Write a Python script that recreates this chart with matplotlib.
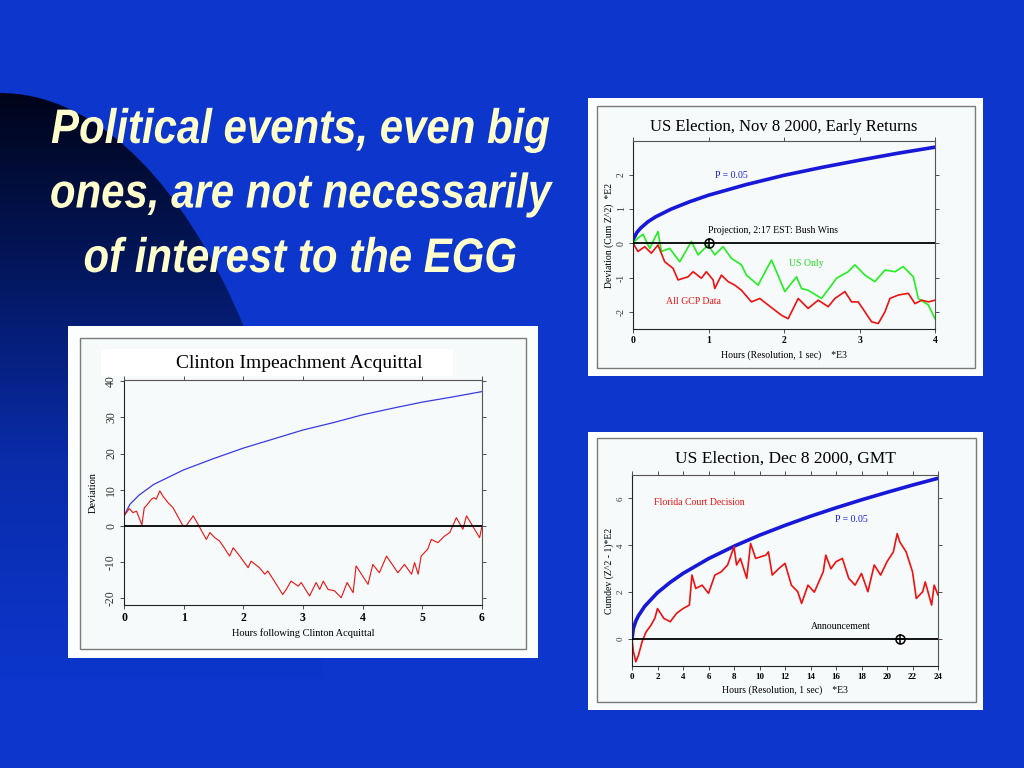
import numpy as np
import matplotlib
matplotlib.use('Agg')
import matplotlib.pyplot as plt
from matplotlib.patches import Rectangle, Ellipse
from matplotlib.patheffects import AbstractPathEffect
from matplotlib.transforms import Affine2D

plt.rcParams['axes.unicode_minus'] = False

W, H = 1024, 768

# ---- data ----
# Nov 8 2000, early returns (x in *E3 hours, y in *E2)
nov_t_blue = [0, 0.01, 0.05, 0.1, 0.2, 0.3, 0.5, 0.75, 1.0, 1.5, 2.0, 2.5, 3.0, 3.5, 4.0]
nov_blue = [0, 0.14, 0.31, 0.44, 0.63, 0.77, 0.99, 1.21, 1.40, 1.71, 1.98, 2.21, 2.42, 2.62, 2.80]
nov_t_green = [0, 0.066, 0.133, 0.221, 0.331, 0.376, 0.486, 0.619, 0.773, 0.862, 0.994, 1.083,
               1.193, 1.304, 1.436, 1.503, 1.657, 1.834, 1.901, 2.011, 2.166, 2.232, 2.320, 2.497,
               2.630, 2.696, 2.851, 2.939, 3.072, 3.204, 3.337, 3.470, 3.580, 3.713, 3.779, 3.912, 4.0]
nov_green = [0, 0.15, 0.26, -0.15, 0.34, -0.24, -0.15, -0.54, 0.05, -0.34, -0.05, -0.34,
             -0.10, -0.44, -0.63, -0.93, -1.22, -0.49, -0.83, -1.41, -0.98, -1.32, -1.37, -1.61,
             -1.22, -1.02, -0.83, -0.63, -0.93, -1.12, -0.78, -0.83, -0.68, -0.98, -1.61, -1.80, -2.20]
nov_t_red = [0, 0.066, 0.155, 0.243, 0.331, 0.420, 0.530, 0.597, 0.729, 0.796, 0.906, 0.972,
             1.061, 1.083, 1.171, 1.260, 1.348, 1.436, 1.569, 1.680, 1.790, 1.967, 2.055, 2.188,
             2.320, 2.453, 2.586, 2.674, 2.807, 2.895, 2.983, 3.072, 3.160, 3.249, 3.337, 3.403,
             3.514, 3.646, 3.735, 3.823, 3.912, 4.0]
nov_red = [0, -0.24, -0.10, -0.29, -0.05, -0.54, -0.73, -1.07, -0.98, -0.83, -1.02, -0.83,
           -1.07, -1.32, -0.93, -1.12, -1.22, -1.37, -1.71, -1.61, -1.80, -2.10, -2.20, -1.61,
           -1.90, -1.66, -1.85, -1.61, -1.41, -1.71, -1.71, -2.00, -2.29, -2.34, -2.00, -1.61,
           -1.51, -1.46, -1.76, -1.66, -1.71, -1.66]
nov_event = (1.0, 0.0)

# Dec 8 2000, GMT
dec_t_blue = [0, 0.1, 0.3, 0.5, 1, 2, 3, 4, 6, 8, 10, 12, 14, 16, 18, 20, 22, 24]
dec_blue = [0, 0.44, 0.77, 0.99, 1.40, 1.98, 2.42, 2.80, 3.43, 3.96, 4.43, 4.85, 5.24, 5.60,
            5.94, 6.26, 6.57, 6.86]
dec_t_red = [0, 0.1, 0.3, 0.5, 0.8, 1.1, 1.5, 1.8, 2.0, 2.5, 3.0, 3.5, 4.0, 4.5, 4.7, 5.0, 5.5,
             6.0, 6.5, 7.0, 7.5, 8.0, 8.2, 8.5, 9.0, 9.3, 9.7, 10.5, 10.7, 11.0, 11.5, 12.0, 12.5,
             13.0, 13.3, 13.8, 14.3, 15.0, 15.2, 15.6, 16.0, 16.5, 17.0, 17.5, 18.0, 18.5, 19.0,
             19.5, 20.0, 20.5, 20.8, 21.0, 21.5, 22.0, 22.3, 22.8, 23.0, 23.5, 23.7, 24.0]
dec_red = [0, -0.5, -0.97, -0.7, -0.1, 0.3, 0.6, 0.9, 1.3, 0.88, 0.74, 1.1, 1.3, 1.45, 2.73,
           2.16, 2.3, 1.95, 2.73, 2.87, 3.16, 3.94, 3.16, 3.44, 2.59, 4.08, 3.44, 3.58, 3.72, 2.73,
           3.0, 3.23, 2.3, 2.02, 1.52, 2.3, 2.0, 2.87, 3.58, 3.0, 3.3, 3.44, 2.59, 2.3, 2.8, 2.02,
           3.16, 2.73, 3.3, 3.72, 4.5, 4.15, 3.72, 2.87, 1.73, 2.02, 2.44, 1.45, 2.3, 1.88]
dec_event = (21.0, 0.0)

# Clinton impeachment acquittal (hours)
cl_t_blue = [0, 0.1, 0.25, 0.5, 0.75, 1, 1.5, 2, 2.5, 3, 3.5, 4, 4.5, 5, 5.5, 6]
cl_blue = [2.8, 6, 8.5, 11.5, 13.5, 15.5, 18.6, 21.5, 24, 26.5, 28.5, 30.7, 32.5, 34.2, 35.6, 37.1]
cl_t_red = [0, 0.09, 0.15, 0.21, 0.30, 0.34, 0.37, 0.46, 0.50, 0.54, 0.60, 0.65, 0.74, 0.82,
            0.99, 1.04, 1.16, 1.24, 1.38, 1.44, 1.52, 1.60, 1.68, 1.77, 1.83, 1.94, 2.08, 2.13,
            2.27, 2.36, 2.41, 2.50, 2.66, 2.72, 2.80, 2.92, 2.97, 3.11, 3.22, 3.28, 3.34, 3.42,
            3.53, 3.64, 3.74, 3.84, 3.89, 3.98, 4.09, 4.17, 4.28, 4.40, 4.59, 4.70, 4.82, 4.87,
            4.93, 4.98, 5.09, 5.15, 5.26, 5.37, 5.46, 5.57, 5.68, 5.74, 5.96, 6.0]
cl_red = [2.8, 4.8, 3.7, 4.1, 0.3, 5.1, 5.5, 7.4, 7.8, 7.4, 9.7, 8.3, 6.4, 5.1,
          0, 0, 2.8, 0.5, -3.7, -1.8, -3.2, -4.1, -6.0, -8.3, -6.0, -8.3, -11.5, -9.7,
          -11.5, -13.3, -12.4, -14.7, -18.9, -17.5, -15.2, -16.6, -15.6, -19.3, -15.6, -17.5, -15.2, -17.5,
          -17.9, -19.8, -15.6, -18.4, -11.0, -13.3, -16.1, -10.6, -12.9, -8.3, -12.9, -10.6, -13.3, -10.1,
          -13.3, -8.3, -6.4, -3.7, -4.6, -2.8, -1.8, 2.3, -0.9, 2.8, -3.2, 0]

SLIDE_BLUE = '#0c36cc'
TITLE_YELLOW = '#ffffcc'
SERIF = ['Liberation Serif', 'DejaVu Serif']


class Stretch(AbstractPathEffect):
    """scale the glyphs vertically around a baseline (display pixels)"""

    def __init__(self, sy, cy):
        super().__init__()
        self.sy = sy
        self.cy = cy

    def draw_path(self, renderer, gc, tpath, affine, rgbFace=None):
        t = affine + Affine2D().translate(0, -self.cy).scale(1, self.sy).translate(0, self.cy)
        renderer.draw_path(gc, tpath, t, rgbFace)


def box(x0, y0, x1, y1):
    """pixel box (top-left origin) -> figure rect"""
    return [x0 / W, 1 - y1 / H, (x1 - x0) / W, (y1 - y0) / H]


fig = plt.figure(figsize=(W / 100, H / 100), dpi=100, facecolor=SLIDE_BLUE)

# background layer: dark shaded ellipse in the upper left
bg = fig.add_axes([0, 0, 1, 1], zorder=0)
bg.set_xlim(0, W)
bg.set_ylim(H, 0)
bg.axis('off')
rows = np.arange(H)
stops_y = [90, 300, 460, 680]
stops_c = np.array([[0, 4, 24], [4, 26, 106], [10, 44, 170], [12, 54, 204]]) / 255.0
grad = np.stack([np.interp(rows, stops_y, stops_c[:, k]) for k in range(3)], axis=1)
img = np.repeat(grad[:, None, :], 2, axis=1)
im = bg.imshow(img, extent=(0, W, H, 0), aspect='auto', interpolation='nearest')
ell = Ellipse((0, 793), 654, 1400, transform=bg.transData, facecolor='none', edgecolor='none')
bg.add_patch(ell)
im.set_clip_path(ell)

# slide title (narrow bold italic look: small font stretched upward)
title_lines = ['Political events, even big', 'ones, are not necessarily', 'of interest to the EGG']
title_base = [143, 207.5, 272]
for line, yb in zip(title_lines, title_base):
    fig.text(300 / W, 1 - yb / H, line, ha='center', va='baseline',
             fontsize=30.2, fontweight='bold', fontstyle='italic', color=TITLE_YELLOW,
             family=['Liberation Sans', 'DejaVu Sans'],
             path_effects=[Stretch(1.157, H - yb)])


def panel(outer, inner):
    x0, y0, x1, y1 = outer
    fig.patches.append(Rectangle((x0 / W, 1 - y1 / H), (x1 - x0) / W, (y1 - y0) / H,
                                 transform=fig.transFigure, facecolor='#fcfefe',
                                 edgecolor='none', zorder=1))
    x0, y0, x1, y1 = inner
    fig.patches.append(Rectangle((x0 / W, 1 - y1 / H), (x1 - x0) / W, (y1 - y0) / H,
                                 transform=fig.transFigure, facecolor='#f6fafa',
                                 edgecolor='#7a7a7a', lw=1.0, zorder=1))


def style_axes(ax, xt, yt, fs=7):
    ax.set_facecolor('#f6fafa')
    for s in ax.spines.values():
        s.set_color('#555555')
        s.set_linewidth(0.8)
    ax.spines['left'].set_color('#222222')
    ax.spines['bottom'].set_color('#222222')
    ax.set_xticks(xt)
    ax.set_yticks(yt)
    ax.tick_params(axis='both', direction='out', length=3, width=0.6, colors='#333333',
                   top=True, right=True, labelsize=fs, pad=2)
    ax.tick_params(axis='x', which='both', labelcolor='black')
    for lab in ax.get_xticklabels():
        lab.set_family(SERIF)
        lab.set_fontweight('bold')
    for lab in ax.get_yticklabels():
        lab.set_family(SERIF)
        lab.set_rotation(90)
        lab.set_va('center')


def event_marker(ax, pt):
    ax.plot([pt[0]], [pt[1]], marker='o', ms=6.5, mfc='none', mec='black', mew=1.1, zorder=6)
    ax.plot([pt[0]], [pt[1]], marker='+', ms=6.5, color='black', mew=1.1, zorder=6)


# ---- panel 1: Nov 8 2000 ----
panel((588, 98, 983, 376), (597, 106, 975, 368))
ax1 = fig.add_axes(box(633, 141, 935, 329), zorder=5)
ax1.plot(nov_t_blue, nov_blue, color='#1818d8', lw=2.6, solid_capstyle='round')
ax1.plot(nov_t_green, nov_green, color='#22ee22', lw=1.2)
ax1.plot(nov_t_red, nov_red, color='#ee1111', lw=1.2)
ax1.axhline(0, color='black', lw=1.3, zorder=3)
event_marker(ax1, nov_event)
ax1.set_xlim(0, 4)
ax1.set_ylim(-2.5, 2.98)
style_axes(ax1, [0, 1, 2, 3, 4], [-2, -1, 0, 1, 2])
ax1.text(1.08, 1.98, 'P = 0.05', color='#1818d8', fontsize=7, family=SERIF, va='center')
ax1.text(0.99, 0.37, 'Projection, 2:17 EST: Bush Wins', color='black', fontsize=7,
         family=SERIF, va='center')
ax1.text(2.06, -0.6, 'US Only', color='#22dd22', fontsize=7, family=SERIF, va='center')
ax1.text(0.44, -1.71, 'All GCP Data', color='#ee1111', fontsize=7, family=SERIF, va='center')
ax1.set_xlabel('Hours (Resolution, 1 sec)    *E3', fontsize=7, family=SERIF, labelpad=4)
ax1.set_ylabel('Deviation (Cum Z^2)  *E2', fontsize=7, family=SERIF, labelpad=2)
fig.text(784 / W, 1 - 127 / H, 'US Election, Nov 8 2000, Early Returns', ha='center',
         va='center', fontsize=12, family=SERIF, zorder=6)

# ---- panel 2: Dec 8 2000 ----
panel((588, 432, 983, 710), (597, 438, 976, 702))
ax2 = fig.add_axes(box(632, 475, 938, 666), zorder=5)
ax2.plot(dec_t_blue, dec_blue, color='#1818d8', lw=2.6, solid_capstyle='round')
ax2.plot(dec_t_red, dec_red, color='#ee1111', lw=1.2)
ax2.axhline(0, color='black', lw=1.3, zorder=3)
event_marker(ax2, dec_event)
ax2.set_xlim(0, 24)
ax2.set_ylim(-1.15, 7.0)
style_axes(ax2, list(range(0, 25, 2)), [0, 2, 4, 6], fs=6.5)
ax2.text(1.75, 5.83, 'Florida Court Decision', color='#ee1111', fontsize=7, family=SERIF,
         va='center')
ax2.text(15.9, 5.1, 'P = 0.05', color='#1818d8', fontsize=7, family=SERIF, va='center')
ax2.text(14.06, 0.53, 'Announcement', color='black', fontsize=7, family=SERIF, va='center')
ax2.set_xlabel('Hours (Resolution, 1 sec)    *E3', fontsize=7, family=SERIF, labelpad=3)
ax2.set_ylabel('Cumdev (Z^2 - 1)*E2', fontsize=7, family=SERIF, labelpad=2)
fig.text(785 / W, 1 - 459 / H, 'US Election, Dec 8 2000, GMT', ha='center', va='center',
         fontsize=12.5, family=SERIF, zorder=6)

# ---- panel 3: Clinton acquittal ----
panel((68, 326, 538, 658), (80, 338, 526, 649))
ax3 = fig.add_axes(box(124, 380, 482, 605), zorder=5)
ax3.plot(cl_t_blue, cl_blue, color='#3a3ae0', lw=0.9)
ax3.plot(cl_t_red, cl_red, color='#ee1111', lw=0.8)
ax3.axhline(0, color='black', lw=1.3, zorder=3)
ax3.set_xlim(0, 6)
ax3.set_ylim(-21.8, 40.3)
style_axes(ax3, [0, 1, 2, 3, 4, 5, 6], [-20, -10, 0, 10, 20, 30, 40], fs=8.5)
ax3.set_xlabel('Hours following Clinton Acquittal', fontsize=7.5, family=SERIF, labelpad=3)
ax3.set_ylabel('Deviation', fontsize=7.5, family=SERIF, labelpad=5)
fig.patches.append(Rectangle((101 / W, 1 - 376 / H), 352 / W, 27 / H, transform=fig.transFigure,
                             facecolor='white', edgecolor='none', zorder=2))
fig.text(299 / W, 1 - 364 / H, 'Clinton Impeachment Acquittal', ha='center', va='center',
         fontsize=14, family=SERIF, zorder=6)

fig.savefig('out.png', dpi=100, facecolor=SLIDE_BLUE)
